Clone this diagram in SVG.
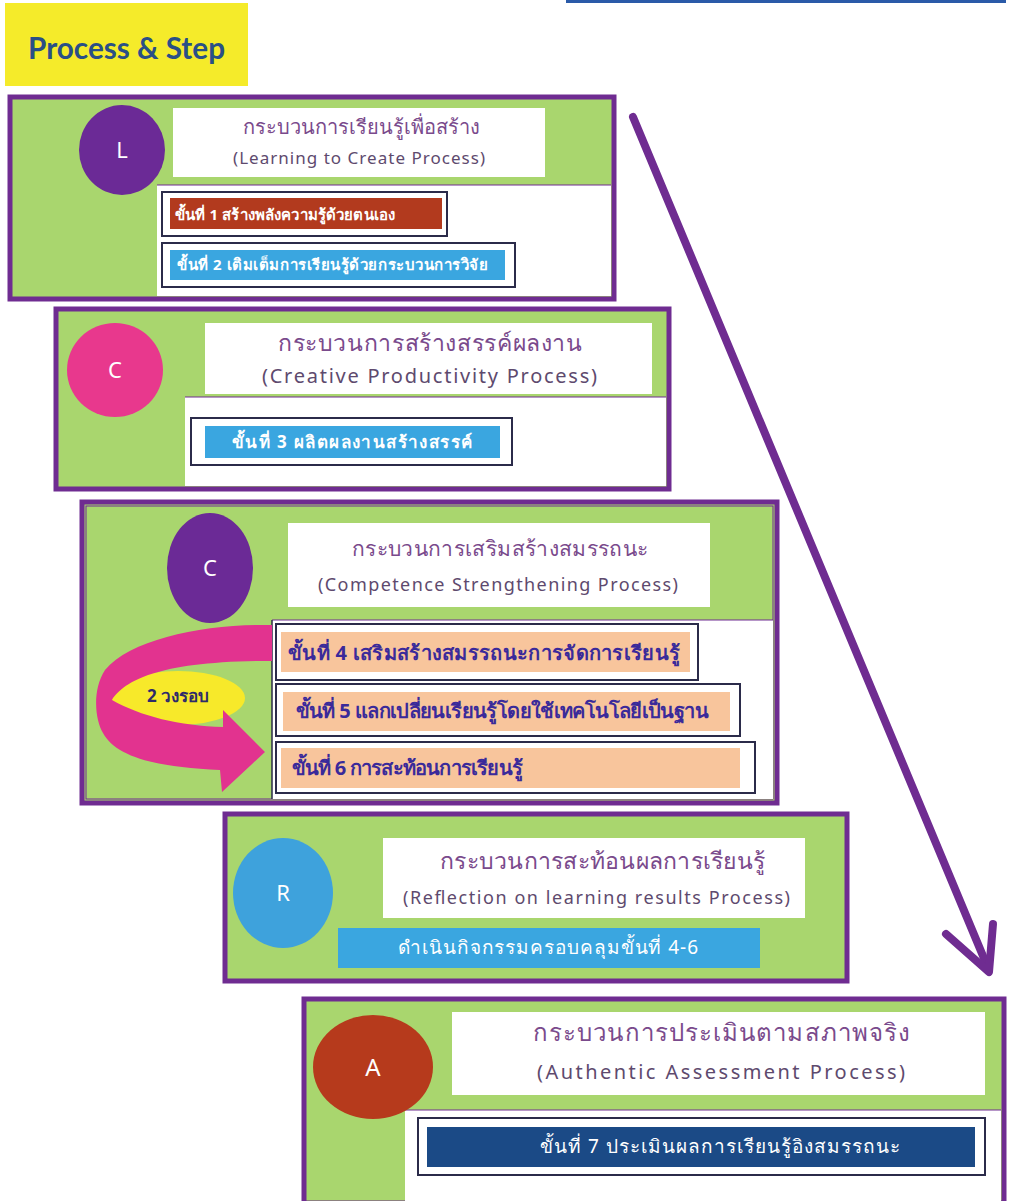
<svg xmlns="http://www.w3.org/2000/svg" width="1010" height="1201" viewBox="0 0 1010 1201">
<style>
.frame{fill:#a9d66e;stroke:#6f2c91;stroke-width:5}
.white{fill:#ffffff}
.outline{fill:#ffffff;stroke:#2b2b4a;stroke-width:2}
.th{font-family:"Noto Sans","DejaVu Sans",sans-serif}
.ttl{fill:#7a4a8c}
.en{fill:#5e4a6e}
.step{fill:#ffffff;font-weight:bold}
.step2{font-size:20px;fill:#3a2a9a;font-weight:bold}
.letter{font-family:"Noto Sans","DejaVu Sans",sans-serif;font-size:22px;fill:#ffffff;text-anchor:middle}
</style>
<rect width="1010" height="1201" fill="#ffffff"/>
<rect x="566" y="0" width="440" height="3" fill="#2a5aa8"/>
<g id="title">
<rect x="5" y="3" width="243" height="83" fill="#f5eb2a"/>
<text x="28" y="59" font-family="Lato,'Noto Sans',sans-serif" font-size="31" font-weight="bold" fill="#2a4f86" textLength="197" lengthAdjust="spacingAndGlyphs">Process &amp; Step</text>
</g>
<g id="connectors">
<line x1="633" y1="117" x2="988" y2="968" stroke="#6f2c91" stroke-width="8" stroke-linecap="round"/>
<polyline points="946,934 989,972 993,924" fill="none" stroke="#6f2c91" stroke-width="8" stroke-linecap="round" stroke-linejoin="round"/>
</g>
<g id="node-L">
<rect class="frame" x="10" y="97" width="604" height="202"/>
<rect class="white" x="157" y="185" width="454" height="111"/>
<line x1="157" y1="185" x2="611" y2="185" stroke="#6f2c91" stroke-width="1"/>
<rect class="white" x="173" y="108" width="372" height="69"/>
<ellipse cx="122" cy="150" rx="43" ry="45" fill="#6b2a96"/>
<text class="letter" x="122" y="158">L</text>
<text class="th ttl" x="243" y="134" font-size="20" textLength="237" lengthAdjust="spacing">กระบวนการเรียนรู้เพื่อสร้าง</text>
<text class="th en" x="233" y="164" font-size="17" textLength="252" lengthAdjust="spacing">(Learning to Create Process)</text>
<rect class="outline" x="162" y="192" width="285" height="44"/>
<rect x="170" y="198" width="272" height="31" fill="#b23a1e"/>
<text class="th step" x="175" y="220" font-size="15" textLength="220" lengthAdjust="spacing">ขั้นที่ 1 สร้างพลังความรู้ด้วยตนเอง</text>
<rect class="outline" x="162" y="243" width="353" height="44"/>
<rect x="170" y="250" width="335" height="30" fill="#3aa6e0"/>
<text class="th step" x="177" y="270" font-size="15" textLength="311" lengthAdjust="spacing">ขั้นที่ 2 เติมเต็มการเรียนรู้ด้วยกระบวนการวิจัย</text>
</g>
<g id="node-C1">
<rect class="frame" x="56" y="309" width="613" height="180"/>
<rect class="white" x="185" y="397" width="481" height="89"/>
<line x1="185" y1="397" x2="666" y2="397" stroke="#6f2c91" stroke-width="1"/>
<rect class="white" x="205" y="323" width="447" height="71"/>
<ellipse cx="115" cy="370" rx="48" ry="47" fill="#e8388d"/>
<text class="letter" x="115" y="378">C</text>
<text class="th ttl" x="278" y="351" font-size="23" textLength="304" lengthAdjust="spacing">กระบวนการสร้างสรรค์ผลงาน</text>
<text class="th en" x="262" y="383" font-size="20" textLength="335" lengthAdjust="spacing">(Creative Productivity Process)</text>
<rect class="outline" x="191" y="418" width="321" height="47"/>
<rect x="205" y="426" width="295" height="32" fill="#3aa6e0"/>
<text class="th step" x="232" y="448" font-size="17" textLength="240" lengthAdjust="spacing">ขั้นที่ 3 ผลิตผลงานสร้างสรรค์</text>
</g>
<g id="node-C2">
<rect class="frame" x="82" y="502" width="695" height="301"/>
<rect x="86" y="506" width="687" height="293" fill="none" stroke="#6f2c91" stroke-width="1"/>
<rect class="white" x="272" y="620" width="501" height="179"/>
<line x1="272" y1="620" x2="773" y2="620" stroke="#6f2c91" stroke-width="1"/>
<line x1="272" y1="620" x2="272" y2="799" stroke="#2b2b4a" stroke-width="1.5"/>
<rect class="white" x="288" y="523" width="422" height="84"/>
<ellipse cx="210" cy="568" rx="43" ry="55" fill="#6b2a96"/>
<text class="letter" x="210" y="576">C</text>
<text class="th ttl" x="352" y="556" font-size="21" textLength="296" lengthAdjust="spacing">กระบวนการเสริมสร้างสมรรถนะ</text>
<text class="th en" x="318" y="591" font-size="18" textLength="360" lengthAdjust="spacing">(Competence Strengthening Process)</text>
<ellipse cx="178" cy="698" rx="67" ry="27" fill="#f7e92a"/>
<path d="M272,625 L262,625 C200,625 130,640 105,670 C92,690 95,720 103,733 C115,755 150,767 220,770 L222,792 L265,752 L223,710 L223,727 C180,726 140,716 112,700 C125,680 160,662 262,661 L272,661 Z" fill="#e2338f"/>
<text x="178" y="702" font-family="'Noto Sans','DejaVu Sans',sans-serif" font-size="17" font-weight="bold" fill="#2e2a6a" text-anchor="middle">2 วงรอบ</text>
<rect class="outline" x="276" y="624" width="422" height="56"/>
<rect x="281" y="632" width="409" height="40" fill="#f8c59c"/>
<text class="th step2" x="288" y="660" textLength="392" lengthAdjust="spacing">ขั้นที่ 4 เสริมสร้างสมรรถนะการจัดการเรียนรู้</text>
<rect class="outline" x="276" y="684" width="464" height="52"/>
<rect x="283" y="692" width="447" height="39" fill="#f8c59c"/>
<text class="th step2" x="295" y="718" textLength="413" lengthAdjust="spacing">ขั้นที่ 5 แลกเปลี่ยนเรียนรู้โดยใช้เทคโนโลยีเป็นฐาน</text>
<rect class="outline" x="276" y="742" width="479" height="51"/>
<rect x="281" y="748" width="459" height="40" fill="#f8c59c"/>
<text class="th step2" x="291" y="775" textLength="231" lengthAdjust="spacing">ขั้นที่ 6 การสะท้อนการเรียนรู้</text>
</g>
<g id="node-R">
<rect class="frame" x="225" y="814" width="622" height="167"/>
<rect class="white" x="383" y="838" width="422" height="80"/>
<ellipse cx="283" cy="893" rx="50" ry="55" fill="#3ea2dc"/>
<text class="letter" x="283" y="901">R</text>
<text class="th ttl" x="440" y="869" font-size="23" textLength="325" lengthAdjust="spacing">กระบวนการสะท้อนผลการเรียนรู้</text>
<text class="th en" x="403" y="904" font-size="18" textLength="387" lengthAdjust="spacing">(Reflection on learning results Process)</text>
<rect x="338" y="928" width="422" height="40" fill="#3aa6e0"/>
<text class="th step" x="398" y="954" font-size="19" style="font-weight:normal" textLength="300" lengthAdjust="spacing">ดำเนินกิจกรรมครอบคลุมขั้นที่ 4-6</text>
</g>
<g id="node-A">
<rect class="frame" x="304" y="999" width="700" height="204"/>
<rect class="white" x="405" y="1110" width="596" height="93"/>
<line x1="405" y1="1110" x2="1001" y2="1110" stroke="#6f2c91" stroke-width="1"/>
<rect class="white" x="452" y="1012" width="533" height="83"/>
<ellipse cx="373" cy="1067" rx="60" ry="52" fill="#b63a1c"/>
<text class="letter" x="373" y="1076" style="font-size:24px">A</text>
<text class="th ttl" x="533" y="1041" font-size="24" textLength="377" lengthAdjust="spacing">กระบวนการประเมินตามสภาพจริง</text>
<text class="th en" x="537" y="1079" font-size="20" textLength="368" lengthAdjust="spacing">(Authentic Assessment Process)</text>
<rect class="outline" x="418" y="1118" width="567" height="57"/>
<rect x="427" y="1127" width="548" height="40" fill="#1b4a86"/>
<text class="th step" x="540" y="1153" font-size="19" style="font-weight:normal" textLength="360" lengthAdjust="spacing">ขั้นที่ 7 ประเมินผลการเรียนรู้อิงสมรรถนะ</text>
</g>
</svg>
